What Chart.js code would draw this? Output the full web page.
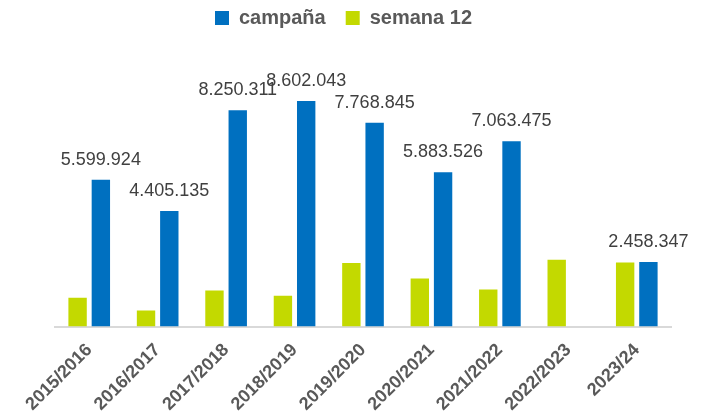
<!DOCTYPE html>
<html>
<head>
<meta charset="utf-8">
<script src="https://cdn.jsdelivr.net/npm/chart.js@4.4.1/dist/chart.umd.min.js"></script>
<style>
  html, body { margin: 0; padding: 0; background: #fff; }
  #wrap { width: 701px; height: 420px; }
</style>
</head>
<body>
<div id="wrap"><canvas id="grafico"></canvas></div>
<script>
// Temporadas (eje X)
const temporadas = ['2015/2016', '2016/2017', '2017/2018', '2018/2019', '2019/2020',
                    '2020/2021', '2021/2022', '2022/2023', '2023/24'];

// Valores
const campana  = [5599924, 4405135, 8250311, 8602043, 7768845, 5883526, 7063475, null, 2458347];
const semana12 = [1095000, 610000, 1370000, 1170000, 2420000, 1830000, 1410000, 2550000, 2440000];

const Y_MAX = 11000000;

const COLORES = {
  azul:  '#0070C0',
  verde: '#C3D900',
  texto: '#595959',
  etiqueta: '#404040',
  eje:   '#D9D9D9',
};

const fmtMiles = v => String(v).replace(/\B(?=(\d{3})+(?!\d))/g, '.');

// Etiquetas de valor sobre las barras de campaña
const etiquetasPlugin = {
  id: 'etiquetas',
  afterDatasetsDraw(chart) {
    const idx = chart.data.datasets.findIndex(d => d.label === 'campaña');
    const meta = chart.getDatasetMeta(idx);
    const ctx = chart.ctx;
    ctx.save();
    ctx.font = "18px 'Liberation Sans', Arial, sans-serif";
    ctx.fillStyle = COLORES.etiqueta;
    ctx.textAlign = 'center';
    ctx.textBaseline = 'alphabetic';
    meta.data.forEach((bar, i) => {
      const v = campana[i];
      if (v == null) return;
      ctx.fillText(fmtMiles(v), bar.x, bar.y - 15);
    });
    ctx.restore();
  },
};

new Chart(document.getElementById('grafico'), {
  type: 'bar',
  data: {
    labels: temporadas,
    datasets: [
      {
        label: 'semana 12',
        data: semana12,
        backgroundColor: COLORES.verde,
        categoryPercentage: 0.68,
        barPercentage: 0.79,
      },
      {
        label: 'campaña',
        data: campana,
        backgroundColor: COLORES.azul,
        categoryPercentage: 0.68,
        barPercentage: 0.79,
      },
    ],
  },
  options: {
    responsive: true,
    maintainAspectRatio: false,
    animation: false,
    layout: { padding: { top: -12, left: 16, right: 30, bottom: 0 } },
    plugins: {
      legend: {
        position: 'top',
        reverse: true,
        labels: {
          boxWidth: 14,
          boxHeight: 14,
          padding: 20,
          color: COLORES.texto,
          font: { family: "'Liberation Sans', Arial, sans-serif", size: 20, weight: 'bold' },
        },
      },
      tooltip: { enabled: false },
    },
    scales: {
      x: {
        grid: { display: false },
        border: { color: COLORES.eje, width: 2 },
        ticks: {
          color: COLORES.texto,
          minRotation: 45,
          maxRotation: 45,
          padding: 5,
          font: { family: "'Liberation Sans', Arial, sans-serif", size: 18, weight: 'bold' },
        },
      },
      y: {
        min: 0,
        max: Y_MAX,
        grid: { display: false },
        border: { display: false },
        ticks: { display: false },
        afterFit: scale => { scale.width = 39; },
      },
    },
  },
  plugins: [etiquetasPlugin],
});
</script>
</body>
</html>
